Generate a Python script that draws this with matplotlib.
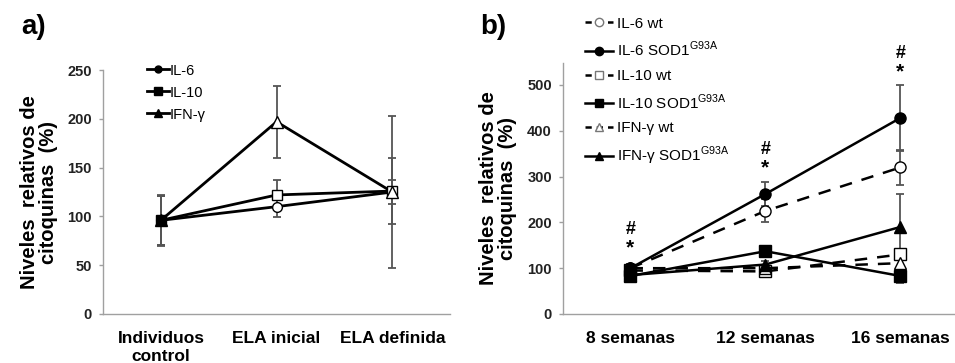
import numpy as np
import matplotlib
matplotlib.use("Agg")
import matplotlib.pyplot as plt
from matplotlib.lines import Line2D

plt.rcParams['font.family'] = ['Liberation Sans', 'DejaVu Sans']

# panel a: pacientes
grupos_a = ["Individuos\ncontrol", "ELA inicial", "ELA definida"]
il6_a = [96, 110, 125]
il6_a_err = [25, 11, 12]
il10_a = [96, 122, 126]
il10_a_err = [26, 15, 34]
ifn_a = [96, 197, 125]
ifn_a_err = [25, 37, 78]

# panel b: ratones
grupos_b = ["8 semanas", "12 semanas", "16 semanas"]
il6_wt = [100, 225, 320]
il6_wt_err = [8, 25, 38]
il6_sod = [100, 262, 428]
il6_sod_err = [10, 27, 72]
il10_wt = [95, 93, 130]
il10_wt_err = [5, 6, 10]
il10_sod = [83, 137, 83]
il10_sod_err = [5, 8, 15]
ifn_wt = [100, 100, 111]
ifn_wt_err = [5, 6, 10]
ifn_sod = [85, 108, 190]
ifn_sod_err = [5, 8, 73]
marca_y = [144, 320, 528]   # altura de "*"; "#" va encima

fig = plt.figure(figsize=(9.55, 3.63), dpi=100)
ax1 = fig.add_axes([0.1079, 0.135, 0.3634, 0.672])
ax2 = fig.add_axes([0.5895, 0.135, 0.424, 0.6915])

gris = "#a0a0a0"
errc = "#555555"


def estilo(ax):
    for s in ["top", "right"]:
        ax.spines[s].set_visible(False)
    for s in ["left", "bottom"]:
        ax.spines[s].set_color(gris)
        ax.spines[s].set_linewidth(1.0)
    ax.tick_params(axis="y", color=gris, length=3, width=1, labelsize=10.5, pad=5)
    ax.tick_params(axis="x", length=0, labelsize=12.5, pad=12)
    for t in ax.get_yticklabels():
        t.set_fontweight("bold")
        t.set_color("#222222")
    for t in ax.get_xticklabels():
        t.set_fontweight("bold")
    ax.set_ylabel("Niveles  relativos de\ncitoquinas  (%)", fontsize=14.5,
                  fontweight="bold", labelpad=7, linespacing=1.0)


# ---- a)
xa = np.arange(len(grupos_a))
series_a = [(il6_a, il6_a_err, "o", 7), (il10_a, il10_a_err, "s", 7), (ifn_a, ifn_a_err, "^", 8)]
for vals, err, mk, ms in series_a:
    ax1.errorbar(xa, vals, yerr=err, fmt="none", ecolor=errc, elinewidth=1.3,
                 capsize=3, capthick=1.3, zorder=2)
    ax1.plot(xa, vals, color="black", lw=2, zorder=3)
    caras = ["black", "white", "white"]
    for xi, v, c in zip(xa, vals, caras):
        ax1.plot(xi, v, marker=mk, ms=ms, mfc=c, mec="black", mew=1, zorder=4)

ax1.set_xlim(-0.5, 2.5)
ax1.set_ylim(0, 250)
ax1.set_yticks(np.arange(0, 251, 50))
ax1.set_xticks(xa)
ax1.set_xticklabels(grupos_a)
estilo(ax1)
ax1.get_xticklabels()[0].set_linespacing(1.3)

h_a = [Line2D([], [], color="black", lw=2, marker=m, ms=s, mfc="black")
       for m, s in [("o", 5), ("s", 6), ("^", 6)]]
ax1.legend(h_a, ["IL-6", "IL-10", "IFN-γ"], loc="upper left",
           bbox_to_anchor=(0.146, 0.845), bbox_transform=fig.transFigure,
           frameon=False, fontsize=10.5, handlelength=1.5, handletextpad=0.1,
           labelspacing=0.55, borderpad=0)

# ---- b)
xb = np.arange(len(grupos_b))
series_b = [
    (il6_wt, il6_wt_err, "o", "white", (0, (5, 4)), "IL-6 wt"),
    (il6_sod, il6_sod_err, "o", "black", "-", "IL-6 SOD1$^{\\mathregular{G93A}}$"),
    (il10_wt, il10_wt_err, "s", "white", (0, (5, 4)), "IL-10 wt"),
    (il10_sod, il10_sod_err, "s", "black", "-", "IL-10 SOD1$^{\\mathregular{G93A}}$"),
    (ifn_wt, ifn_wt_err, "^", "white", (0, (5, 4)), "IFN-γ wt"),
    (ifn_sod, ifn_sod_err, "^", "black", "-", "IFN-γ SOD1$^{\\mathregular{G93A}}$"),
]
handles = []
for vals, err, mk, fc, ls, lab in series_b:
    ax2.errorbar(xb, vals, yerr=err, fmt="none", ecolor=errc, elinewidth=1.3,
                 capsize=3, capthick=1.3, zorder=2)
    ax2.plot(xb, vals, color="black", lw=1.8, ls=ls, marker=mk, ms=8,
             mfc=fc, mec="black", mew=1, zorder=4 if fc == "black" else 3)
    lsh = (0, (2.5, 2)) if fc == "white" else "-"
    handles.append(Line2D([], [], color="black", lw=1.8, ls=lsh, marker=mk,
                          ms=6, mfc=fc, mec="black" if fc == "black" else "#777777"))

for xi, y in zip(xb, marca_y):
    ax2.text(xi, y, "*", ha="center", va="center", fontsize=15,
             fontweight="bold", clip_on=False)
    ax2.text(xi, y + 40, "#", ha="center", va="center", fontsize=13,
             fontweight="bold", clip_on=False)

ax2.set_xlim(-0.5, 2.5)
ax2.set_ylim(0, 548)
ax2.set_yticks(np.arange(0, 501, 100))
ax2.set_xticks(xb)
ax2.set_xticklabels(grupos_b)
estilo(ax2)

fig.legend(handles, [s[5] for s in series_b], loc="upper left",
           bbox_to_anchor=(0.605, 0.975), frameon=False, fontsize=11,
           handlelength=1.8, handletextpad=0.3, labelspacing=0.62, borderpad=0)

fig.text(0.022, 0.925, "a)", fontsize=20, fontweight="bold", va="center")
fig.text(0.503, 0.925, "b)", fontsize=20, fontweight="bold", va="center")

fig.savefig("out.png", dpi=100)
